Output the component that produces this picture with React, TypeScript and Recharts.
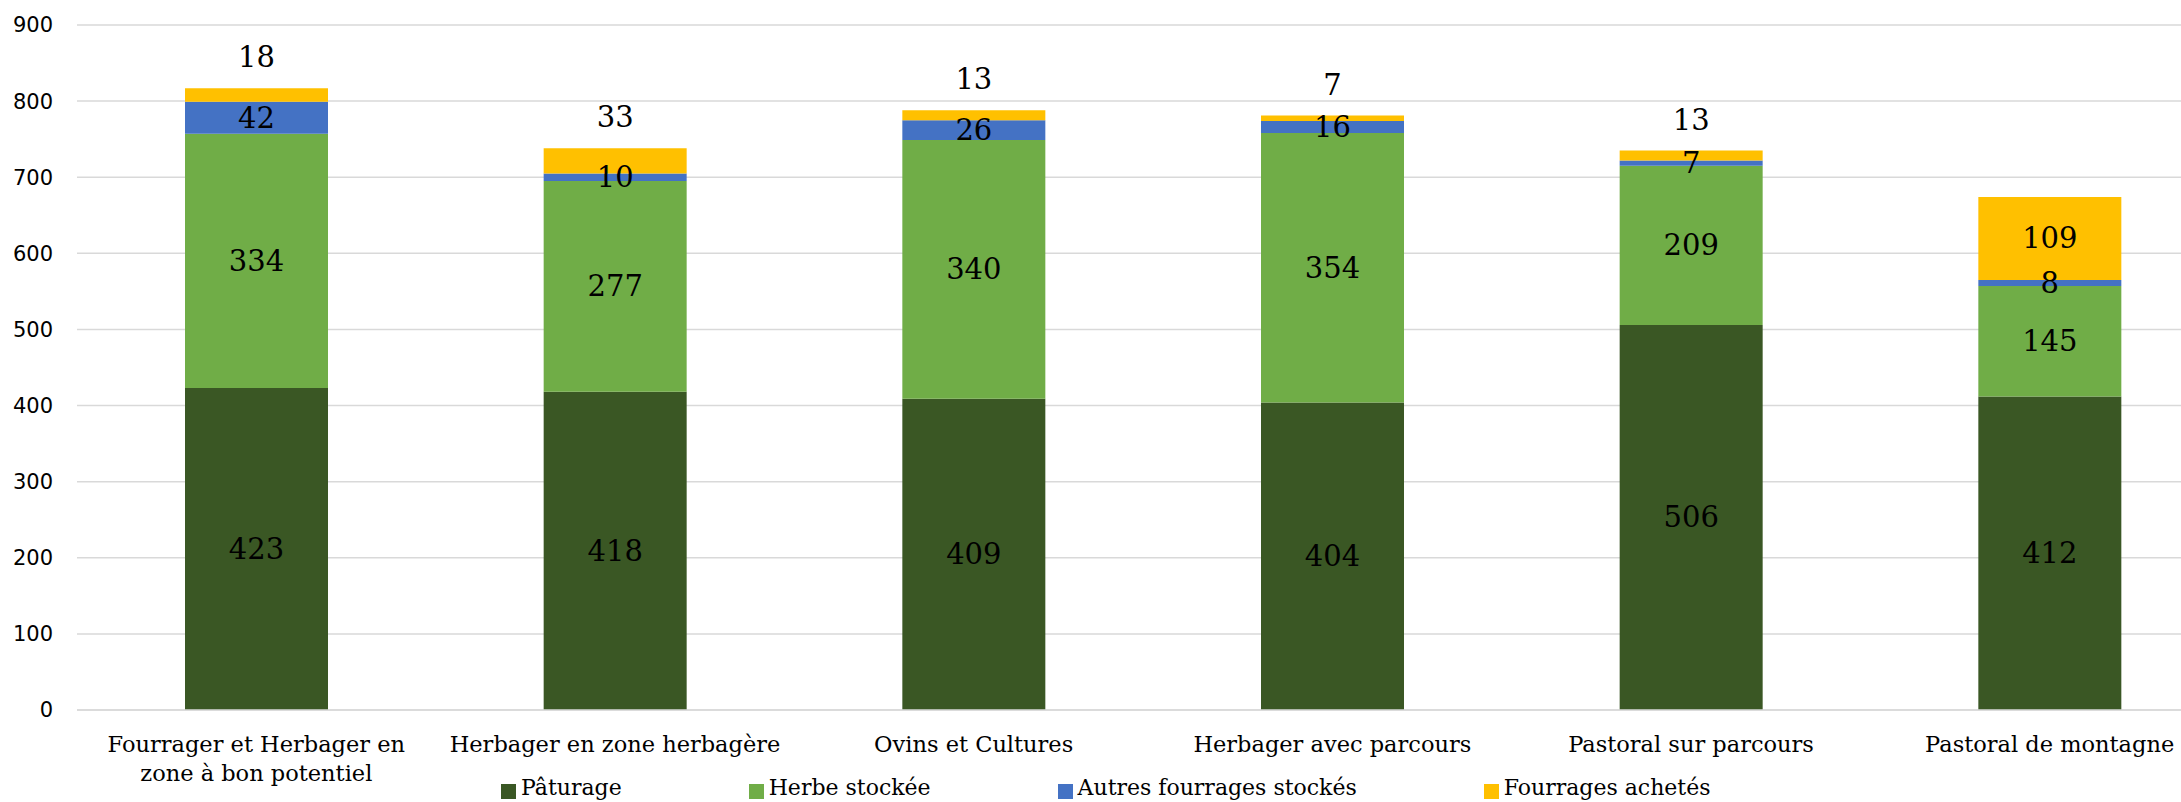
import { Bar, BarChart, CartesianGrid, LabelList, XAxis, YAxis } from "recharts";

const categories = [
  "Fourrager et Herbager en\nzone à bon potentiel",
  "Herbager en zone herbagère",
  "Ovins et Cultures",
  "Herbager avec parcours",
  "Pastoral sur parcours",
  "Pastoral de montagne",
];
const paturage = [423, 418, 409, 404, 506, 412];
const herbeStockee = [334, 277, 340, 354, 209, 145];
const autresFourrages = [42, 10, 26, 16, 7, 8];
const fourragesAchetes = [18, 33, 13, 7, 13, 109];
const yTicks = [0, 100, 200, 300, 400, 500, 600, 700, 800, 900];

const series = [
  { key: "paturage", name: "Pâturage", color: "#3a5724" },
  { key: "herbe", name: "Herbe stockée", color: "#70ad47" },
  { key: "autres", name: "Autres fourrages stockés", color: "#4472c4" },
  { key: "achetes", name: "Fourrages achetés", color: "#ffc000" },
];

const data = categories.map((label, i) => ({
  label,
  paturage: paturage[i],
  herbe: herbeStockee[i],
  autres: autresFourrages[i],
  achetes: fourragesAchetes[i],
}));

const SERIF = "'DejaVu Serif', 'Liberation Serif', serif";

function CategoryTick({ x, y, payload }: any) {
  const lines = String(payload.value).split("\n");
  return (
    <text x={x} y={y} textAnchor="middle" fontFamily={SERIF} fontSize={22.5} fill="#000">
      {lines.map((l, i) => (
        <tspan key={i} x={x} dy={i === 0 ? 42 : 29}>
          {l}
        </tspan>
      ))}
    </text>
  );
}

function segmentLabel(above: boolean) {
  return (props: any) => {
    const { x, y, width, height, value } = props;
    const cx = x + width / 2;
    const cy = above && value < 50 ? y - 31 : y + height / 2;
    return (
      <text x={cx} y={cy} dy={10} textAnchor="middle" fontFamily={SERIF} fontSize={29} fill="#000">
        {value}
      </text>
    );
  };
}

export default function App() {
  return (
    <div style={{ position: "fixed", left: 0, top: 0, width: 2181, height: 802, overflow: "hidden", background: "#fff" }}>
      <BarChart width={2240} height={802} data={data} margin={{ top: 25, right: 11, bottom: 0, left: 0 }}>
        <CartesianGrid stroke="#d9d9d9" strokeWidth={1.5} vertical={false} />
        <XAxis
          dataKey="label"
          height={92}
          axisLine={{ stroke: "#d9d9d9", strokeWidth: 1.5 }}
          tickLine={false}
          tickSize={0}
          tickMargin={0}
          interval={0}
          tick={<CategoryTick />}
        />
        <YAxis
          width={77}
          domain={[0, 900]}
          ticks={yTicks}
          axisLine={false}
          tickLine={false}
          tickSize={0}
          tickMargin={24}
          tick={{ fontSize: 21, fill: "#000", fontFamily: "'DejaVu Sans', sans-serif" }}
        />
        {series.map((s) => (
          <Bar key={s.key} dataKey={s.key} name={s.name} stackId="a" fill={s.color} barSize={143} isAnimationActive={false}>
            <LabelList dataKey={s.key} content={segmentLabel(s.key === "achetes")} />
          </Bar>
        ))}
      </BarChart>
      <div
        style={{
          position: "absolute",
          left: 501,
          top: 775,
          display: "flex",
          gap: 127,
          fontFamily: SERIF,
          fontSize: 22,
          lineHeight: "26px",
          whiteSpace: "nowrap",
        }}
      >
        {series.map((s) => (
          <div key={s.key} style={{ display: "flex", alignItems: "center" }}>
            <span style={{ display: "inline-block", width: 15, height: 15, background: s.color, marginRight: 5, marginTop: 6 }} />
            <span>{s.name}</span>
          </div>
        ))}
      </div>
    </div>
  );
}
